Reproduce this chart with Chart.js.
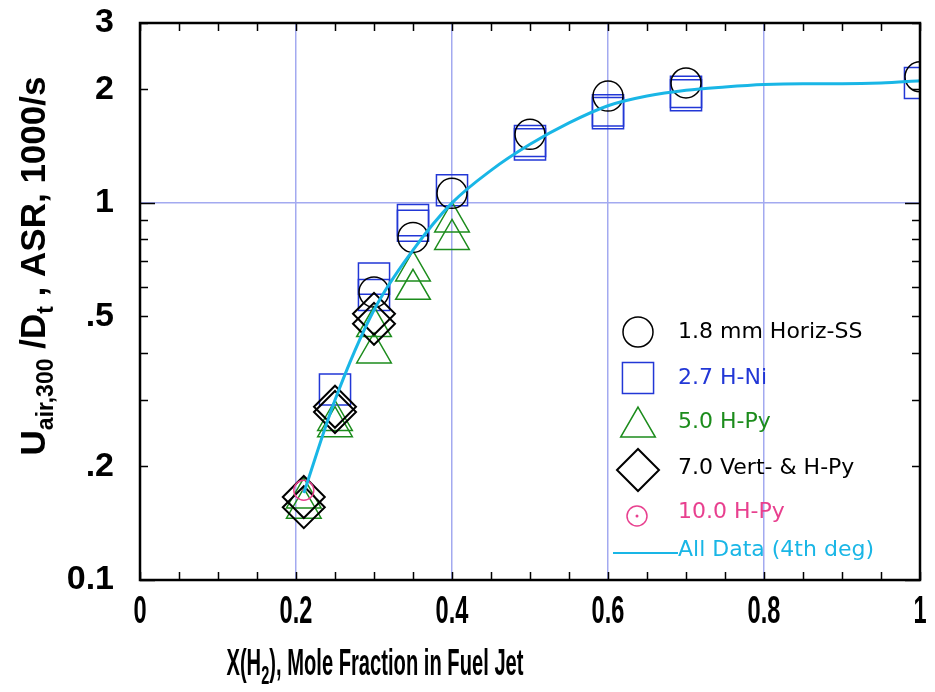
<!DOCTYPE html>
<html lang="en">
<head>
    <meta charset="UTF-8">
    <title>Strain rate vs H2 mole fraction</title>
    <script src="https://cdn.jsdelivr.net/npm/chart.js"></script>
    <style>
        html, body { margin: 0; padding: 0; background: #fff; }
        canvas { display: block; }
    </style>
</head>
<body>
<canvas id="asrChart" width="935" height="692"></canvas>
<script>
    // data
    const circX = [0.3, 0.35, 0.4, 0.5, 0.6, 0.7, 1.0];
    const circY = [0.58, 0.81, 1.06, 1.52, 1.92, 2.08, 2.16];

    const sqX = [0.25, 0.3, 0.3, 0.35, 0.35, 0.4, 0.5, 0.5, 0.6, 0.6, 0.7, 0.7, 1.0];
    const sqY = [0.32, 0.63, 0.57, 0.90, 0.87, 1.08, 1.46, 1.43, 1.76, 1.73, 1.97, 1.93, 2.08];

    const triX = [0.21, 0.21, 0.25, 0.25, 0.3, 0.3, 0.35, 0.35, 0.4, 0.4];
    const triY = [0.165, 0.155, 0.265, 0.255, 0.47, 0.40, 0.66, 0.59, 0.89, 0.80];

    const diaX = [0.21, 0.21, 0.25, 0.25, 0.3, 0.3];
    const diaY = [0.166, 0.156, 0.288, 0.279, 0.508, 0.478];

    const pinkX = [0.21];
    const pinkY = [0.173];

    // 4th degree fit, read at points along the curve
    const curveX = [0.21, 0.25, 0.3, 0.35, 0.4, 0.45, 0.5, 0.55, 0.6, 0.65, 0.7, 0.75, 0.8, 0.85, 0.9, 0.95, 1.0];
    const curveY = [0.17, 0.30, 0.52, 0.75, 1.0, 1.22, 1.43, 1.63, 1.81, 1.92, 1.99, 2.03, 2.06, 2.07, 2.07, 2.08, 2.11];

    const xTickValues = [0, 0.2, 0.4, 0.6, 0.8, 1];
    const xTickLabels = ['0', '0.2', '0.4', '0.6', '0.8', '1'];
    const yTickValues = [0.1, 0.2, 0.3, 0.4, 0.5, 0.6, 0.7, 0.8, 0.9, 1, 2, 3];
    const yTickLabels = ['0.1', '.2', '', '', '.5', '', '', '', '', '1', '2', '3'];

    const legendNames = ['1.8 mm Horiz-SS', '2.7 H-Ni', '5.0 H-Py', '7.0 Vert- & H-Py', '10.0 H-Py', 'All Data (4th deg)'];

    const BLUE = '#2237d6', GREEN = '#1c8c1c', PINK = '#e8408f', CYAN = '#19b6e6', GRID = '#a3aaf0';

    function pts(xs, ys) {
        return xs.map((v, i) => ({ x: v, y: ys[i] }));
    }

    // frame, inward ticks, x labels, axis titles and legend
    const decor = {
        id: 'decor',
        afterDraw(chart) {
            const ctx = chart.ctx;
            const a = chart.chartArea;
            const xs = chart.scales.x, ys = chart.scales.y;
            ctx.save();

            // ticks
            ctx.strokeStyle = '#000';
            ctx.lineWidth = 1.5;
            ctx.beginPath();
            xs.ticks.forEach(t => {
                const px = Math.round(xs.getPixelForValue(t.value)) + 0.5;
                ctx.moveTo(px, a.bottom); ctx.lineTo(px, a.bottom - 8);
                ctx.moveTo(px, a.top); ctx.lineTo(px, a.top + 8);
            });
            ys.ticks.forEach(t => {
                const py = Math.round(ys.getPixelForValue(t.value)) + 0.5;
                const len = (t.value === 1 || t.value === 0.1) ? 15 : 8;
                ctx.moveTo(a.left, py); ctx.lineTo(a.left + len, py);
                ctx.moveTo(a.right, py); ctx.lineTo(a.right - len, py);
            });
            ctx.stroke();

            ctx.lineWidth = 2.5;
            ctx.strokeRect(a.left, a.top, a.right - a.left, a.bottom - a.top);

            // x tick labels (condensed)
            ctx.fillStyle = '#000';
            ctx.font = 'bold 38px "Liberation Sans"';
            ctx.textAlign = 'center';
            ctx.textBaseline = 'alphabetic';
            xTickValues.forEach((v, i) => {
                const px = xs.getPixelForValue(v);
                ctx.save();
                ctx.translate(px, 623);
                ctx.scale(0.62, 1);
                ctx.fillText(xTickLabels[i], 0, 0);
                ctx.restore();
            });

            // x title with subscript
            const xParts = [['X(H', 36, 0], ['2', 26, 9], ['), Mole Fraction in Fuel Jet', 36, 0]];
            drawParts(ctx, xParts, 375, 675, 0.56, 'bold');

            // y title, rotated
            ctx.save();
            ctx.translate(45, 266);
            ctx.rotate(-Math.PI / 2);
            const yParts = [['U', 35, 0], ['air,300', 23, 8], [' /D', 35, 0], ['t', 23, 8], [' , ASR, 1000/s', 35, 0]];
            drawParts(ctx, yParts, 0, 0, 1.0, 'bold');
            ctx.restore();

            // legend
            const lx = 638, tx = 678;
            const rows = [332, 378, 422, 468, 512, 550];
            const colors = ['#000', BLUE, GREEN, '#000', PINK, CYAN];
            ctx.lineWidth = 1.5;
            const H = Chart.helpers;
            ctx.fillStyle = 'rgba(0,0,0,0)';
            ctx.strokeStyle = '#000';
            H.drawPoint(ctx, { pointStyle: 'circle', radius: 15, borderWidth: 1.5 }, lx, rows[0]);
            ctx.strokeStyle = BLUE;
            H.drawPoint(ctx, { pointStyle: 'rect', radius: 22, borderWidth: 1.5 }, lx, rows[1]);
            ctx.strokeStyle = GREEN;
            H.drawPoint(ctx, { pointStyle: 'triangle', radius: 20, borderWidth: 1.8 }, lx, rows[2] + 5);
            ctx.strokeStyle = '#000';
            ctx.lineWidth = 2;
            H.drawPoint(ctx, { pointStyle: 'rectRot', radius: 21, borderWidth: 2 }, lx, rows[3] + 2);
            ctx.strokeStyle = PINK;
            ctx.lineWidth = 1.5;
            H.drawPoint(ctx, { pointStyle: 'circle', radius: 10, borderWidth: 1.5 }, lx - 1, rows[4] + 4);
            ctx.fillStyle = PINK;
            ctx.beginPath(); ctx.arc(lx - 1, rows[4] + 4, 1.5, 0, Math.PI * 2); ctx.fill();
            ctx.strokeStyle = CYAN;
            ctx.lineWidth = 2;
            ctx.beginPath(); ctx.moveTo(613, rows[5] + 3); ctx.lineTo(678, rows[5] + 3); ctx.stroke();

            ctx.font = '22px "DejaVu Sans"';
            ctx.textAlign = 'left';
            ctx.textBaseline = 'middle';
            legendNames.forEach((n, i) => {
                ctx.fillStyle = colors[i];
                ctx.fillText(n, tx, rows[i]);
            });
            ctx.restore();
        }
    };

    // text runs with subscripts, centered on cx, squashed by sx
    function drawParts(ctx, parts, cx, cy, sx, weight) {
        ctx.save();
        ctx.textAlign = 'left';
        ctx.textBaseline = 'alphabetic';
        let total = 0;
        parts.forEach(p => {
            ctx.font = weight + ' ' + p[1] + 'px "Liberation Sans"';
            total += ctx.measureText(p[0]).width;
        });
        ctx.translate(cx, cy);
        ctx.scale(sx, 1);
        let x = -total / 2;
        parts.forEach(p => {
            ctx.font = weight + ' ' + p[1] + 'px "Liberation Sans"';
            ctx.fillStyle = '#000';
            ctx.fillText(p[0], x, p[2]);
            x += ctx.measureText(p[0]).width;
        });
        ctx.restore();
    }

    const zeroPad = s => { s.paddingLeft = 0; s.paddingRight = 0; s.paddingTop = 0; s.paddingBottom = 0; };

    const ctx = document.getElementById('asrChart').getContext('2d');
    const asrChart = new Chart(ctx, {
        type: 'scatter',
        data: {
            datasets: [
                {
                    label: 'All Data (4th deg)',
                    data: pts(curveX, curveY),
                    showLine: true,
                    borderColor: CYAN,
                    borderWidth: 3,
                    pointRadius: 0,
                    cubicInterpolationMode: 'monotone',
                    order: 0
                },
                {
                    label: '10.0 H-Py dot',
                    data: pts(pinkX, pinkY),
                    pointStyle: 'circle',
                    pointRadius: 1.5,
                    backgroundColor: PINK,
                    borderColor: PINK,
                    borderWidth: 0,
                    order: 1
                },
                {
                    label: '10.0 H-Py',
                    data: pts(pinkX, pinkY),
                    pointStyle: 'circle',
                    pointRadius: 10,
                    backgroundColor: 'rgba(0,0,0,0)',
                    borderColor: PINK,
                    borderWidth: 1.5,
                    order: 2
                },
                {
                    label: '1.8 mm Horiz-SS',
                    data: pts(circX, circY),
                    pointStyle: 'circle',
                    pointRadius: 15,
                    backgroundColor: 'rgba(0,0,0,0)',
                    borderColor: '#000',
                    borderWidth: 1.5,
                    order: 3
                },
                {
                    label: '7.0 Vert- & H-Py',
                    data: pts(diaX, diaY),
                    pointStyle: 'rectRot',
                    pointRadius: 21,
                    backgroundColor: 'rgba(0,0,0,0)',
                    borderColor: '#000',
                    borderWidth: 2,
                    order: 4
                },
                {
                    label: '5.0 H-Py',
                    data: pts(triX, triY),
                    pointStyle: 'triangle',
                    pointRadius: 20,
                    backgroundColor: 'rgba(0,0,0,0)',
                    borderColor: GREEN,
                    borderWidth: 1.5,
                    order: 5
                },
                {
                    label: '2.7 H-Ni',
                    data: pts(sqX, sqY),
                    pointStyle: 'rect',
                    pointRadius: 22,
                    backgroundColor: 'rgba(0,0,0,0)',
                    borderColor: BLUE,
                    borderWidth: 1.5,
                    order: 6
                }
            ]
        },
        options: {
            responsive: false,
            animation: false,
            layout: { autoPadding: false, padding: { top: 23, right: 15, left: 0, bottom: 0 } },
            plugins: {
                legend: { display: false },
                tooltip: { enabled: false }
            },
            scales: {
                x: {
                    type: 'linear',
                    min: 0,
                    max: 1,
                    afterFit: s => { s.height = 112; zeroPad(s); },
                    ticks: {
                        stepSize: 0.05,
                        autoSkip: false,
                        callback: () => ''
                    },
                    grid: {
                        drawTicks: false,
                        lineWidth: 1.5,
                        color: c => {
                            const v = Math.round(c.tick.value * 100);
                            return (v > 0 && v < 100 && v % 20 === 0) ? GRID : 'rgba(0,0,0,0)';
                        }
                    },
                    border: { display: false }
                },
                y: {
                    type: 'logarithmic',
                    min: 0.1,
                    max: 3,
                    afterFit: s => { s.width = 140; zeroPad(s); },
                    afterBuildTicks: s => { s.ticks = yTickValues.map(v => ({ value: v })); },
                    ticks: {
                        autoSkip: false,
                        padding: 26,
                        color: '#000',
                        font: { family: 'Liberation Sans', size: 34, weight: 'bold' },
                        callback: v => {
                            const i = yTickValues.findIndex(t => Math.abs(t - v) < 1e-9);
                            return i >= 0 ? yTickLabels[i] : '';
                        }
                    },
                    grid: {
                        drawTicks: false,
                        lineWidth: 1.5,
                        color: c => c.tick.value === 1 ? GRID : 'rgba(0,0,0,0)'
                    },
                    border: { display: false }
                }
            }
        },
        plugins: [decor]
    });
</script>
</body>
</html>
